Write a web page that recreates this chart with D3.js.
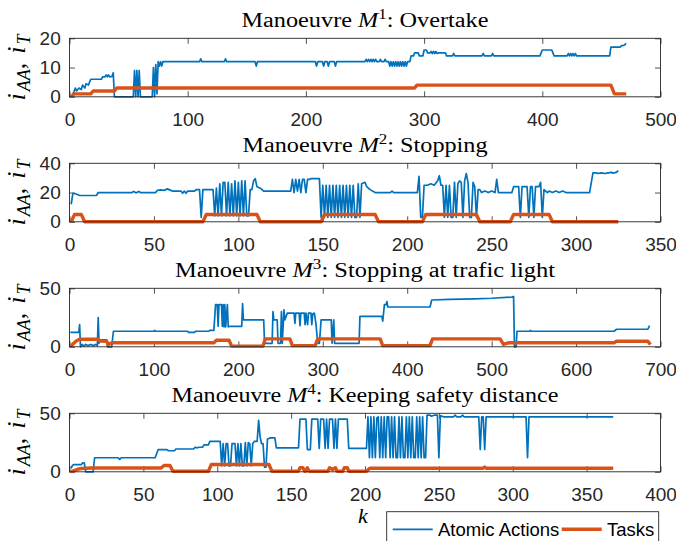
<!DOCTYPE html>
<html><head><meta charset="utf-8">
<script src="https://cdn.jsdelivr.net/npm/d3@7"></script>
<style>body{margin:0;background:#fff} svg{display:block}</style>
</head><body>
<svg id="c" width="676" height="541"></svg>
<script>
// ---------------- DATA ----------------
const titleNames = ["Overtake", "Stopping", "Stopping at trafic light", "Keeping safety distance"];
const titleSups = ["1", "2", "3", "4"];
const xMax = [500, 350, 700, 400];
const yMax = [20, 40, 50, 50];
const xTicks = [
  [0, 100, 200, 300, 400, 500],
  [0, 50, 100, 150, 200, 250, 300, 350],
  [0, 100, 200, 300, 400, 500, 600, 700],
  [0, 50, 100, 150, 200, 250, 300, 350, 400]
];
const yTicks = [[0, 10, 20], [0, 20, 40], [0, 50], [0, 50]];
const seriesNames = ["Atomic Actions", "Tasks"];

// [k, value]
const aa1 = [[1,0],[3,1],[5,3],[6,2],[8,3],[10,2.5],[11,4],[13,3],[14,4.5],[16,4],[18,6],[27,6],[28,6.8],[30,6.8],[31,7.5],[32,6.8],[33,7.5],[34,6.8],[36,7],[37,8.2],[38,0],[54,0],[55,9],[56,0],[57,9],[58,0],[59,9],[60,0],[70,0],[71,10],[72,0],[73,11],[74,1],[75,12],[76,10.5],[77,12],[78,10.5],[79,12],[110,12],[111,13],[112,12],[131,12],[132,13],[133,12],[157,12],[158,10.5],[159,12],[208,12],[209,10.5],[210,12],[214,12],[215,10.5],[216,12],[218,12],[219,10.5],[220,12],[224,12],[225,10.5],[226,12],[250,12],[251,12.8],[252,12],[253,12.8],[254,12],[255,12.8],[256,12],[257,12.8],[258,12],[259,12.8],[260,12],[262,12],[263,12.8],[264,12],[266,12],[267,12.8],[268,12],[270,12],[271,10.5],[272,12],[273,10.5],[274,12],[275,10.5],[276,12],[277,10.5],[278,12],[279,10.5],[280,12],[281,10.5],[282,12],[283,10.5],[284,12],[285,10.5],[286,12],[288,12],[289,14],[291,14],[292,15],[295,15],[296,14],[299,14],[300,16],[302,16],[303,15],[305,15],[306,15.5],[307,14.8],[308,15.5],[309,14.8],[310,15.5],[311,14.8],[312,15],[318,15],[319,14],[324,14],[325,14.8],[326,14],[349,14],[350,14.8],[351,14],[357,14],[358,14.8],[359,14],[398,14],[400,16],[408,16],[410,14],[421,14],[422,14.8],[423,14],[424,14.8],[425,14],[426,14.8],[427,14],[428,14.8],[429,14],[457,14],[458,17],[466,17],[467,17.5],[469,17.6],[471,18.3]];
const t1 = [[1,0],[4,1],[18,1],[20,2],[38,2],[40,3],[292,3],[294,4],[458,4],[461,1],[471,1]];

const aa2 = [[1,12],[2,19.5],[4,19],[6,18],[16,18],[17,20],[37,20],[38,20.8],[39,20],[40,20],[41,20.8],[42,20],[51,20],[52,21.5],[54,21.8],[56,21.5],[58,22.5],[60,21.5],[61,21],[66,21],[67,19.5],[68,21],[69,19.5],[70,21],[74,21],[75,22],[77,22],[78,3],[79,22],[84,22],[85,22],[86,4],[87,23],[88,4],[89,26],[90,4],[91,27],[92,27],[93,4],[94,27],[95,4],[96,26],[97,4],[98,28],[99,4],[100,27],[101,4],[102,28],[103,4],[104,28],[105,4],[106,4],[107,22],[108,22],[109,28],[110,29.5],[111,24],[113,23],[115,21],[130,21],[131,21],[132,29],[133,20],[134,29],[135,21],[136,29],[137,20],[138,29],[139,29],[140,20],[141,29],[142,29],[143,29.5],[148,29.5],[149,3],[150,25],[151,3],[152,25],[153,3],[154,25],[155,3],[156,25],[157,3],[158,25],[159,3],[160,25],[161,3],[162,25],[163,3],[164,25],[165,3],[166,25],[167,3],[168,25],[169,3],[170,3],[171,26],[172,3],[173,26],[175,27],[176,24],[178,22],[181,20],[190,20],[191,21],[192,20],[206,20],[207,31],[208,3],[209,3],[210,25],[212,25],[214,26],[216,25],[218,28],[219,31.5],[220,25],[221,25],[222,3],[223,25],[224,3],[225,25],[226,3],[227,3],[228,27],[229,3],[230,26],[231,28],[232,27],[233,3],[234,28],[235,33],[236,27],[237,3],[238,3],[239,27],[240,24],[241,3],[242,22],[243,22],[244,20],[246,21],[248,20],[250,21],[252,20],[253,29],[254,20],[262,20],[263,24],[266,24],[267,3],[268,24],[271,24],[272,3],[273,24],[274,24],[275,3],[276,24],[278,24],[279,27],[280,3],[281,22],[283,20],[284,21],[286,20],[288,21],[290,20],[292,21],[294,20],[308,20],[310,33.5],[312,33.5],[313,33],[315,33.5],[317,33],[319,33.5],[321,33.8],[322,33.2],[324,34],[325,35]];
const t2 = [[1,0],[3,5],[7,5],[9,0],[79,0],[81,5],[111,5],[113,0],[149,0],[151,5],[181,5],[183,0],[209,0],[211,5],[241,5],[243,0],[261,0],[263,5],[284,5],[286,0],[325,0]];

const aa3 = [[1,12.4],[11,12.4],[12,19],[13,0],[15,2],[17,0.5],[19,2],[22,1],[25,2],[28,1],[31,2],[33,1],[34,25],[35,3],[36,6],[44,6],[45,0],[50,0],[52,13.3],[100,13.3],[101,14],[102,13.3],[140,13.3],[141,12.3],[148,12.3],[149,13.3],[165,13.3],[166,14],[171,14],[173,36],[175,36],[176,17.5],[177,36],[180,36],[181,17.5],[182,36],[183,17],[184,36],[185,17],[187,36],[188,17],[189,17.5],[204,17.5],[205,37],[206,23],[208,23],[230,23],[231,3],[240,3],[241,30],[242,23],[246,23],[247,3],[250,3],[251,30],[252,3],[254,31.5],[255,23],[258,28.8],[266,28.8],[267,20],[268,28.8],[272,28.8],[273,18],[274,28.8],[278,28.8],[279,19],[280,28.8],[282,19],[283,28.8],[286,28.8],[287,19],[288,28],[290,28.8],[292,19],[294,3],[296,3],[298,23],[310,23],[311,3],[313,23],[314,3],[343,3],[344,26],[370,26],[371,22],[373,36],[375,36],[376,38.7],[377,34],[427,34],[429,40],[450,40.5],[480,41],[500,41.5],[524,42.5],[526,43],[527,0],[529,0],[530,13.3],[545,13.3],[546,14],[547,13.3],[645,13.3],[648,15],[685,15],[687,18]];
const t3 = [[1,0],[5,3],[8,5],[12,6.5],[34,6.5],[36,5],[44,4.8],[46,2],[50,3.4],[171,3.4],[174,5.6],[189,5.6],[192,0.6],[229,0.6],[232,6.8],[261,6.8],[264,1],[291,1],[294,6.8],[368,6.8],[371,1],[427,1],[430,6.8],[510,6.8],[514,2],[520,3.4],[645,3.4],[648,4.8],[685,4.8],[688,2]];

const aa4 = [[1,3],[2,5.4],[3,6.2],[8,6.2],[9,7.6],[10,7.6],[11,0],[16,0],[17,12],[33,12],[34,10.5],[35,12],[58,12],[60,19],[66,19],[67,18],[71,18],[72,19.5],[84,19.5],[85,21],[86,20.5],[88,21],[90,21],[91,23],[94,23],[95,26],[102,26],[103,5],[104,24],[105,5],[106,24],[107,24],[108,5],[109,5],[110,24],[112,24],[113,5],[114,24],[115,5],[116,24],[117,5],[118,5],[119,25],[120,5],[121,25],[122,24],[123,5],[124,24],[125,26],[127,26],[128,44],[129,30],[130,24],[131,24],[132,4],[133,4],[134,28],[136,29],[139,29],[140,20.5],[155,20.5],[156,45],[160,45],[161,19],[163,19],[164,45],[168,45],[169,20],[170,45],[172,45],[173,20],[174,45],[175,20],[176,45],[178,45],[179,20],[180,45],[181,20],[182,45],[188,45],[189,20],[201,20],[202,47],[203,12],[204,47],[205,12],[206,47],[207,12],[208,46],[209,47],[210,12],[211,47],[212,12],[213,47],[214,12],[215,47],[216,47],[217,12],[218,47],[219,12],[220,47],[221,12],[222,12],[223,47],[224,12],[225,47],[226,12],[227,12],[228,47],[229,12],[230,47],[231,12],[232,47],[233,12],[234,12],[235,47],[236,12],[237,47],[238,12],[239,47],[240,12],[241,12],[242,48.5],[244,48.5],[245,47.5],[247,48.5],[249,48.5],[250,12],[251,48],[253,47],[260,47],[261,48.5],[262,47],[265,47],[266,48.5],[267,47],[277,47],[278,19],[279,47],[280,47],[281,19],[282,47],[309,47],[310,12],[311,47],[368,47]];
const t4 = [[1,0],[5,2],[8,2.8],[15,3.2],[62,3.2],[64,5.4],[68,5.4],[70,0.5],[94,0.5],[96,6.2],[135,6.2],[137,0.5],[155,0.5],[156,3.5],[158,3.5],[159,0.5],[160,0.5],[161,3.5],[162,0.5],[175,0.5],[176,3.5],[178,2],[180,3.5],[181,0.5],[185,0.5],[186,3.5],[188,3.5],[189,0.5],[201,0.5],[203,2.8],[204,3],[280,3],[281,4],[282,3],[368,3]];

const atomicSeries = [aa1, aa2, aa3, aa4];
const taskSeries = [t1, t2, t3, t4];

// ---------------- LAYOUT / STYLE ----------------
const L = 69.5, R = 660.5, H = 58.5;
const tops = [38.3, 163.3, 288.3, 413.3];
const titleWidths = [247, 245, 380, 387];
const axisColor = "#262626";
const blue = "#0072BD", orange = "#D95319";
const sans = "'Liberation Sans', Arial, Helvetica, sans-serif";
const serif = "'Liberation Serif', 'Times New Roman', serif";

const svg = d3.select("#c");
svg.append("rect").attr("width", 676).attr("height", 541).attr("fill", "#fff");

for (let p = 0; p < 4; p++) {
  const top = tops[p], bot = top + H;
  const x = d3.scaleLinear().domain([0, xMax[p]]).range([L, R]);
  const y = d3.scaleLinear().domain([0, yMax[p]]).range([bot, top]);
  const g = svg.append("g");

  g.append("rect").attr("x", L).attr("y", top).attr("width", R - L).attr("height", H)
    .attr("fill", "#fff");

  const styleAxis = sel => {
    sel.select(".domain").remove();
    sel.selectAll("line").attr("stroke", axisColor).attr("stroke-width", 0.8);
    sel.selectAll("text").attr("fill", axisColor).attr("font-family", sans).attr("font-size", 19);
  };
  g.append("g").attr("transform", `translate(0,${bot})`)
    .call(d3.axisBottom(x).tickValues(xTicks[p]).tickSizeInner(-5.5).tickSizeOuter(0).tickPadding(16))
    .call(styleAxis);
  g.append("g").attr("transform", `translate(0,${top})`)
    .call(d3.axisTop(x).tickValues(xTicks[p]).tickSizeInner(-5.5).tickSizeOuter(0).tickFormat(""))
    .call(styleAxis);
  g.append("g").attr("transform", `translate(${L},0)`)
    .call(d3.axisLeft(y).tickValues(yTicks[p]).tickSizeInner(-5.5).tickSizeOuter(0).tickPadding(8.8))
    .call(styleAxis);
  g.append("g").attr("transform", `translate(${R},0)`)
    .call(d3.axisRight(y).tickValues(yTicks[p]).tickSizeInner(-5.5).tickSizeOuter(0).tickFormat(""))
    .call(styleAxis);

  const line = d3.line().x(d => x(d[0])).y(d => y(d[1]));
  g.append("path").datum(atomicSeries[p]).attr("d", line)
    .attr("fill", "none").attr("stroke", blue).attr("stroke-width", 1.7)
    .attr("stroke-linejoin", "round");
  g.append("path").datum(taskSeries[p]).attr("d", line)
    .attr("fill", "none").attr("stroke", orange).attr("stroke-width", 3.4)
    .attr("stroke-linejoin", "round");

  g.append("rect").attr("x", L).attr("y", top).attr("width", R - L).attr("height", H)
    .attr("fill", "none").attr("stroke", axisColor).attr("stroke-width", 0.9);

  // title
  const t = g.append("text").attr("x", (L + R) / 2).attr("y", top - 11.6)
    .attr("text-anchor", "middle").attr("font-family", serif).attr("font-size", 20)
    .attr("fill", "#000")
    .attr("textLength", titleWidths[p]).attr("lengthAdjust", "spacingAndGlyphs");
  t.append("tspan").text("Manoeuvre ");
  t.append("tspan").attr("font-style", "italic").text("M");
  t.append("tspan").attr("font-size", 14).attr("dy", -8).text(titleSups[p]);
  t.append("tspan").attr("dy", 8).text(": " + titleNames[p]);

  // y label
  const yl = g.append("text").attr("transform", `translate(25,${(top + bot) / 2}) rotate(-90)`)
    .attr("text-anchor", "middle").attr("font-family", serif).attr("font-size", 26)
    .attr("fill", "#000");
  yl.append("tspan").attr("font-style", "italic").text("i");
  yl.append("tspan").attr("font-style", "italic").attr("font-size", 18).attr("dx", 2).attr("dy", 5).text("AA");
  yl.append("tspan").attr("dy", -5).text(",");
  yl.append("tspan").attr("font-style", "italic").attr("dx", 9).text("i");
  yl.append("tspan").attr("font-style", "italic").attr("font-size", 18).attr("dx", 2).attr("dy", 5).text("T");
}

// x label
svg.append("text").attr("x", 363).attr("y", 523).attr("text-anchor", "middle")
  .attr("font-family", serif).attr("font-style", "italic").attr("font-size", 22)
  .attr("fill", "#000").text("k");

// legend
const lg = svg.append("g");
lg.append("rect").attr("x", 386.7).attr("y", 511.7).attr("width", 272).attr("height", 40)
  .attr("fill", "#fff").attr("stroke", axisColor).attr("stroke-width", 0.9);
const legendItems = [
  { name: seriesNames[0], color: blue, w: 1.7, x1: 392.7, x2: 432.7, tx: 438 },
  { name: seriesNames[1], color: orange, w: 3.4, x1: 561.7, x2: 601.7, tx: 607 }
];
legendItems.forEach(it => {
  lg.append("line").attr("x1", it.x1).attr("x2", it.x2).attr("y1", 529.3).attr("y2", 529.3)
    .attr("stroke", it.color).attr("stroke-width", it.w);
  lg.append("text").attr("x", it.tx).attr("y", 536).attr("font-family", sans)
    .attr("font-size", 18.5).attr("fill", "#000").text(it.name);
});
</script>
</body></html>
